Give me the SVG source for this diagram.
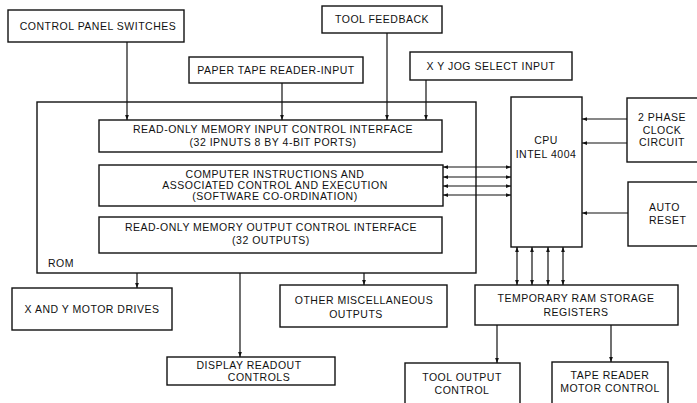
<svg xmlns="http://www.w3.org/2000/svg" width="697" height="403" viewBox="0 0 697 403">
<defs>
<marker id="ah" viewBox="0 0 8 8" refX="8" refY="4" markerWidth="5" markerHeight="5" orient="auto-start-reverse" markerUnits="userSpaceOnUse">
<path d="M0,1 L8,4 L0,7 Z" fill="#111"/>
</marker>
</defs>
<style>
.b{fill:#fff;stroke:#111;stroke-width:1.4}
.c{fill:none;stroke:#111;stroke-width:1.2}
text{font-family:"Liberation Sans",Arial,sans-serif;font-size:10.5px;letter-spacing:0.5px;fill:#111;text-anchor:middle}
</style>
<rect width="697" height="403" fill="#fff"/>
<g id="rom">
<rect class="b" x="37" y="102" width="439" height="171"/>
<text x="48" y="267" style="text-anchor:start">ROM</text>
</g>
<g id="cps"><rect class="b" x="8" y="10" width="176" height="32"/><text x="98" y="30">CONTROL PANEL SWITCHES</text></g>
<g id="tfb"><rect class="b" x="322" y="6" width="120" height="27"/><text x="382" y="23">TOOL FEEDBACK</text></g>
<g id="ptr"><rect class="b" x="189" y="57" width="174" height="26"/><text x="276" y="74">PAPER TAPE READER-INPUT</text></g>
<g id="xyj"><rect class="b" x="410" y="52" width="162" height="28"/><text x="491" y="70">X Y JOG SELECT INPUT</text></g>
<g id="inp"><rect class="b" x="99" y="120" width="343" height="32"/><text x="273" y="133">READ-ONLY MEMORY INPUT CONTROL INTERFACE</text><text x="273" y="146">(32 IPNUTS 8 BY 4-BIT PORTS)</text></g>
<g id="cmp"><rect class="b" x="99" y="165" width="344" height="41"/><text x="275" y="178">COMPUTER INSTRUCTIONS AND</text><text x="275" y="189">ASSOCIATED CONTROL AND EXECUTION</text><text x="275" y="200">(SOFTWARE CO-ORDINATION)</text></g>
<g id="out"><rect class="b" x="99" y="217" width="343" height="36"/><text x="271" y="231">READ-ONLY MEMORY OUTPUT CONTROL INTERFACE</text><text x="271" y="244">(32 OUTPUTS)</text></g>
<g id="cpu"><rect class="b" x="511" y="97" width="71" height="150"/><text x="546" y="144">CPU</text><text x="546" y="158">INTEL 4004</text></g>
<g id="clk"><rect class="b" x="627" y="98" width="80" height="64"/><text x="662" y="121">2 PHASE</text><text x="662" y="134">CLOCK</text><text x="662" y="146">CIRCUIT</text></g>
<g id="rst"><rect class="b" x="628" y="182" width="80" height="64"/><text x="649" y="211" style="text-anchor:start">AUTO</text><text x="649" y="224" style="text-anchor:start">RESET</text></g>
<g id="xym"><rect class="b" x="12" y="288" width="160" height="42"/><text x="92" y="313">X AND Y MOTOR DRIVES</text></g>
<g id="oth"><rect class="b" x="280" y="285" width="167" height="42"/><text x="364" y="304">OTHER MISCELLANEOUS</text><text x="356" y="318">OUTPUTS</text></g>
<g id="dsp"><rect class="b" x="167" y="357" width="168" height="28"/><text x="249" y="369">DISPLAY READOUT</text><text x="259" y="381">CONTROLS</text></g>
<g id="ram"><rect class="b" x="475" y="285" width="203" height="40"/><text x="576" y="302">TEMPORARY RAM STORAGE</text><text x="576" y="316">REGISTERS</text></g>
<g id="too"><rect class="b" x="405" y="363" width="115" height="50"/><text x="462" y="381">TOOL OUTPUT</text><text x="462" y="394">CONTROL</text></g>
<g id="tap"><rect class="b" x="552" y="362" width="116" height="51"/><text x="610" y="379">TAPE READER</text><text x="610" y="392">MOTOR CONTROL</text></g>
<g id="connectors">
<path class="c" d="M127,42 V120" marker-end="url(#ah)"/>
<path class="c" d="M282,83 V120" marker-end="url(#ah)"/>
<path class="c" d="M387,33 V120" marker-end="url(#ah)"/>
<path class="c" d="M426,80 V120" marker-end="url(#ah)"/>
<path class="c" d="M443,167 H511" marker-start="url(#ah)" marker-end="url(#ah)"/>
<path class="c" d="M443,177 H511" marker-start="url(#ah)" marker-end="url(#ah)"/>
<path class="c" d="M443,186 H511" marker-start="url(#ah)" marker-end="url(#ah)"/>
<path class="c" d="M443,195 H511" marker-start="url(#ah)" marker-end="url(#ah)"/>
<path class="c" d="M627,119 H582" marker-end="url(#ah)"/>
<path class="c" d="M627,143 H582" marker-end="url(#ah)"/>
<path class="c" d="M628,213 H582" marker-end="url(#ah)"/>
<path class="c" d="M517,247 V285" marker-start="url(#ah)" marker-end="url(#ah)"/>
<path class="c" d="M532,247 V285" marker-start="url(#ah)" marker-end="url(#ah)"/>
<path class="c" d="M548,247 V285" marker-start="url(#ah)" marker-end="url(#ah)"/>
<path class="c" d="M563,247 V285" marker-start="url(#ah)" marker-end="url(#ah)"/>
<path class="c" d="M137,273 V288" marker-end="url(#ah)"/>
<path class="c" d="M240,273 V357" marker-end="url(#ah)"/>
<path class="c" d="M364,273 V285" marker-end="url(#ah)"/>
<path class="c" d="M497,325 V363" marker-end="url(#ah)"/>
<path class="c" d="M611,325 V362" marker-end="url(#ah)"/>
</g>
</svg>
